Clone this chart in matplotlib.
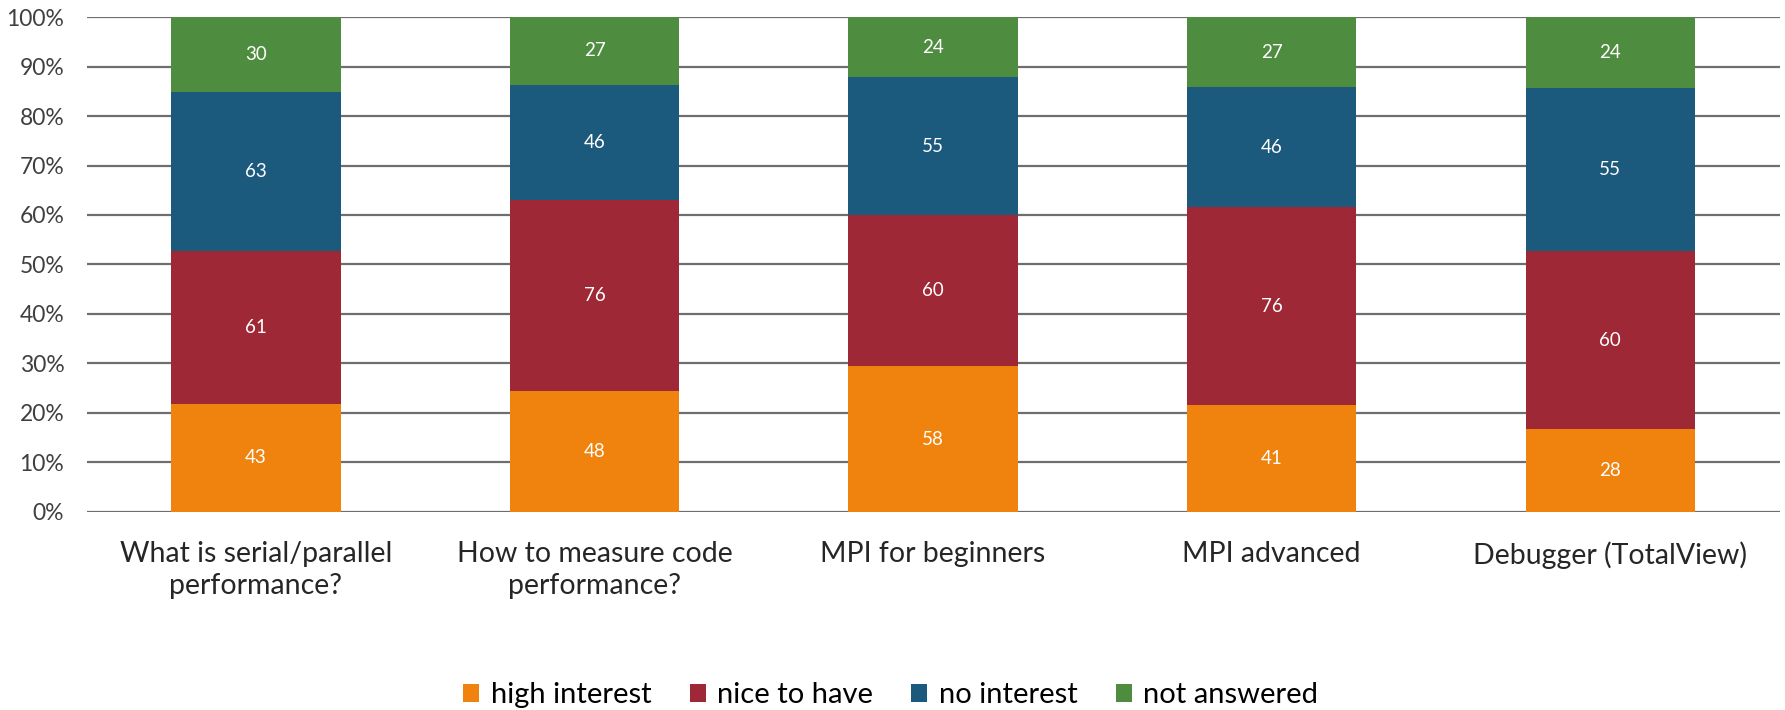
import numpy as np
import matplotlib.pyplot as plt

plt.rcParams['font.family'] = ['Lato', 'DejaVu Sans']

categories = ['What is serial/parallel\nperformance?', 'How to measure code\nperformance?',
              'MPI for beginners', 'MPI advanced', 'Debugger (TotalView)']
series = ['high interest', 'nice to have', 'no interest', 'not answered']
high = [43, 48, 58, 41, 28]
nice = [61, 76, 60, 76, 60]
noint = [63, 46, 55, 46, 55]
notans = [30, 27, 24, 27, 24]
colors = ['#F0820E', '#9E2836', '#1B5A7D', '#4E8C3F']

data = np.array([high, nice, noint, notans], dtype=float)
pct = data / data.sum(axis=0) * 100

fig = plt.figure(figsize=(17.85, 7.1), dpi=100)
ax = fig.add_axes([0.0485, 0.279, 0.9485, 0.697])

x = np.arange(len(categories))
bottom = np.zeros(len(categories))
for i in range(len(series)):
    ax.bar(x, pct[i], 0.5, bottom=bottom, color=colors[i], label=series[i], zorder=3)
    for j in range(len(categories)):
        ax.text(x[j], bottom[j] + pct[i][j] / 2, str(int(data[i][j])), ha='center', va='center',
                color='white', fontsize=13.5, zorder=4)
    bottom += pct[i]

ax.set_xlim(-0.5, len(categories) - 0.5)
ax.set_ylim(0, 100)
ax.set_yticks(np.arange(0, 101, 10))
ax.set_yticklabels([f'{v}%' for v in range(0, 101, 10)], fontsize=16.5, color='#404040')
ax.set_xticks(x)
ax.set_xticklabels(categories, fontsize=20.5, color='#262626', linespacing=1.3)
ax.tick_params(length=0)
ax.tick_params(axis='x', pad=21)
ax.tick_params(axis='y', pad=16)
ax.yaxis.grid(True, color='#6e6e6e', linewidth=1.6, zorder=0)
for s in ax.spines.values():
    s.set_visible(False)

ax.legend(loc='lower center', bbox_to_anchor=(0.475, -0.45), ncol=4, frameon=False, fontsize=21,
          handlelength=0.55, handleheight=0.55, handletextpad=0.4, columnspacing=1.3)

plt.savefig('out.png', dpi=100)
